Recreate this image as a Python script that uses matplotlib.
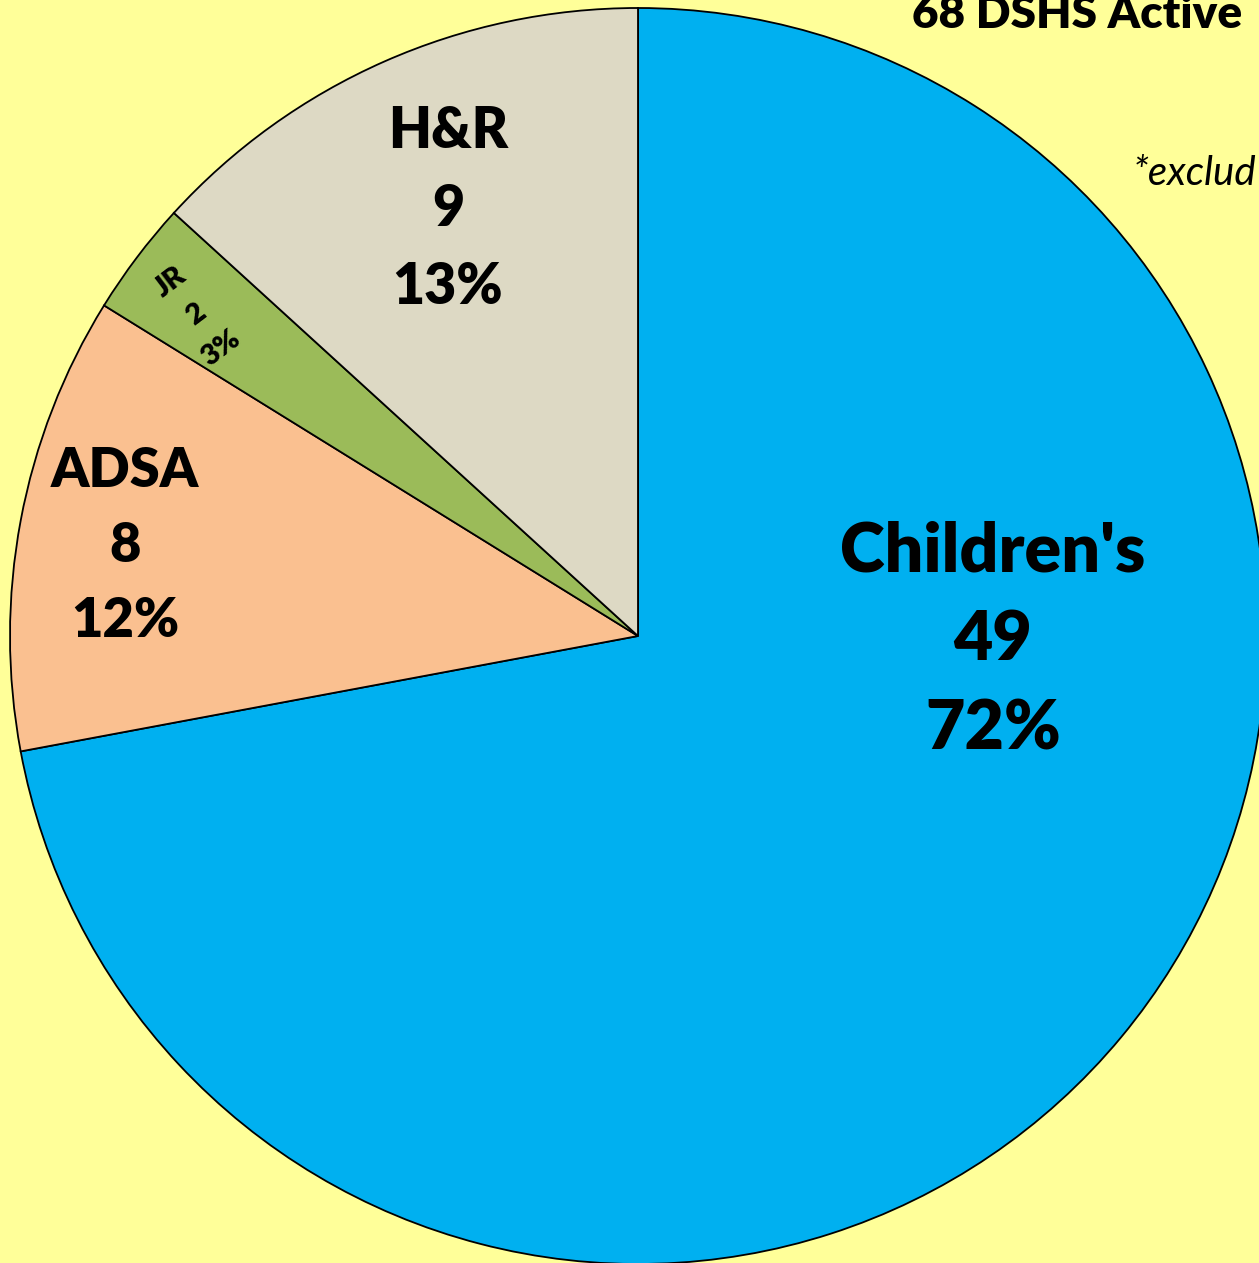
import matplotlib.pyplot as plt

# slice data (clockwise from 12 o'clock)
categories = ["Children's", "ADSA", "JR", "H&R"]
counts = [49, 8, 2, 9]
percents = ["72%", "12%", "3%", "13%"]
slice_colors = ["#00B0F0", "#FAC090", "#9BBB59", "#DDD9C4"]

title_text = "68 DSHS Active"
note_text = "*exclud"

W, H = 1259, 1263
BG = "#FFFF99"

plt.rcParams["font.family"] = ["Lato", "DejaVu Sans"]

fig = plt.figure(figsize=(W / 100, H / 100), dpi=100, facecolor=BG)
ax = fig.add_axes([0, 0, 1, 1])
ax.set_facecolor(BG)

# pie in pixel units so the layout matches the picture
cx, cy, r = 638, H - 636, 628
ax.pie(
    counts,
    colors=slice_colors,
    startangle=90,
    counterclock=False,
    radius=r,
    center=(cx, cy),
    wedgeprops=dict(edgecolor="black", linewidth=1.3),
)
ax.set_xlim(0, W)
ax.set_ylim(0, H)
ax.set_aspect("equal")
ax.axis("off")

# label placement: (x, y of middle line, fontsize, rotation, line spacing)
label_pos = {
    "Children's": (993, 641, 49, 0, 1.5),
    "ADSA": (125, 546, 39, 0, 1.6),
    "JR": (196, 315, 21, 37, 1.75),
    "H&R": (448, 209, 40, 0, 1.6),
}
for name, n, pct in zip(categories, counts, percents):
    x, y, fs, rot, ls = label_pos[name]
    ax.text(x, H - y, f"{name}\n{n}\n{pct}", ha="center", va="center",
            multialignment="center", fontsize=fs, fontweight="heavy",
            rotation=rot, rotation_mode="anchor", linespacing=ls)

ax.text(912, H - 28, title_text, ha="left", va="baseline",
        fontsize=33, fontweight="heavy")
ax.text(1133, H - 185, note_text, ha="left", va="baseline",
        fontsize=29, style="italic")

fig.savefig("out.png", dpi=100, facecolor=BG)
